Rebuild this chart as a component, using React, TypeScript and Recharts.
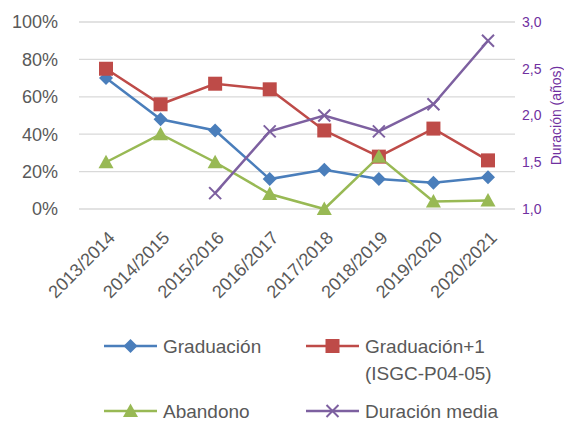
import React from 'react';
import { LineChart, Line, XAxis, YAxis, CartesianGrid } from 'recharts';

const categories = ['2013/2014', '2014/2015', '2015/2016', '2016/2017', '2017/2018', '2018/2019', '2019/2020', '2020/2021'];
const graduacion = [70, 48, 42, 16, 21, 16, 14, 17];
const graduacionMas1 = [75, 56, 67, 64, 42, 28, 43, 26];
const abandono = [25, 40, 25, 8, 0, 28, 4, 4.5];
const duracionMedia = [null, null, 1.17, 1.83, 2.0, 1.83, 2.12, 2.8];

const leftTicks = [0, 20, 40, 60, 80, 100];
const rightTicks = [1, 1.5, 2, 2.5, 3];

const BLUE = '#4A7EBB';
const RED = '#BE4B48';
const GREEN = '#98B954';
const PURPLE = '#7D60A0';
const TEXT = '#595959';
const AXIS_PURPLE = '#7030A0';
const FONT = '"Liberation Sans", Arial, sans-serif';

const data = categories.map((c, i) => ({
  year: c,
  grad: graduacion[i],
  grad1: graduacionMas1[i],
  aband: abandono[i],
  dur: duracionMedia[i],
}));

const diamond = (cx: number, cy: number, color: string, r = 7) => (
  <path d={`M${cx},${cy - r}L${cx + r},${cy}L${cx},${cy + r}L${cx - r},${cy}Z`} fill={color} />
);
const square = (cx: number, cy: number, color: string, r = 7) => (
  <rect x={cx - r} y={cy - r} width={r * 2} height={r * 2} fill={color} />
);
const triangle = (cx: number, cy: number, color: string, r = 7.5) => (
  <path d={`M${cx},${cy - r}L${cx + r},${cy + r * 0.8}L${cx - r},${cy + r * 0.8}Z`} fill={color} />
);
const cross = (cx: number, cy: number, color: string, r = 6) => (
  <path d={`M${cx - r},${cy - r}L${cx + r},${cy + r}M${cx - r},${cy + r}L${cx + r},${cy - r}`} stroke={color} strokeWidth={2} fill="none" />
);

const makeDot = (fn: (cx: number, cy: number, color: string) => React.ReactElement, color: string) => (props: any) => {
  const { cx, cy, index } = props;
  if (cx == null || cy == null || props.value == null) return <g key={index} />;
  return <g key={index}>{fn(cx, cy, color)}</g>;
};

const XTick = (props: any) => {
  const { x, y, payload } = props;
  const px = x + 10;
  const py = y + 30;
  return (
    <text x={px} y={py} transform={`rotate(-45, ${px}, ${py})`} textAnchor="end" fill={TEXT} fontSize={18} fontFamily={FONT}>
      {payload.value}
    </text>
  );
};

const RightLabel = (props: any) => {
  const { viewBox } = props;
  const x = viewBox.x + 41;
  const y = viewBox.y + viewBox.height / 2;
  return (
    <text x={x} y={y} transform={`rotate(-90, ${x}, ${y})`} textAnchor="middle" dominantBaseline="central" fill={AXIS_PURPLE} fontSize={14} fontFamily={FONT}>
      Duración (años)
    </text>
  );
};

const legendItems = [
  { x: 104, y: 346, color: BLUE, marker: diamond, lines: ['Graduación'] },
  { x: 306, y: 346, color: RED, marker: square, lines: ['Graduación+1', '(ISGC-P04-05)'] },
  { x: 104, y: 411, color: GREEN, marker: triangle, lines: ['Abandono'] },
  { x: 306, y: 411, color: PURPLE, marker: cross, lines: ['Duración media'] },
];

const Legend = () => (
  <svg width={564} height={421} style={{ position: 'absolute', left: 0, top: 0, pointerEvents: 'none' }}>
    {legendItems.map((it) => (
      <g key={it.lines[0]}>
        <line x1={it.x} x2={it.x + 53} y1={it.y} y2={it.y} stroke={it.color} strokeWidth={2.5} />
        {it.marker(it.x + 26.5, it.y, it.color)}
        {it.lines.map((t, k) => (
          <text key={t} x={it.x + 59} y={it.y + k * 27} dominantBaseline="central" fill={TEXT} fontSize={19} fontFamily={FONT}>
            {t}
          </text>
        ))}
      </g>
    ))}
  </svg>
);

export default function App() {
  return (
    <div style={{ position: 'absolute', left: 0, top: 0, width: 564, height: 421, background: '#fff' }}>
      <LineChart width={564} height={421} data={data} margin={{ top: 22, right: 0, bottom: 0, left: 0 }}>
        <CartesianGrid yAxisId="left" vertical={false} stroke="#D9D9D9" strokeWidth={1.3} />
        <XAxis
          dataKey="year"
          interval={0}
          height={212}
          padding={{ left: 27, right: 27 }}
          tickSize={0}
          tickMargin={0}
          axisLine={false}
          tickLine={false}
          tick={<XTick />}
        />
        <YAxis
          yAxisId="left"
          domain={[0, 100]}
          ticks={leftTicks}
          width={79}
          tickSize={0}
          tickMargin={21}
          axisLine={false}
          tickLine={false}
          tickFormatter={(v: number) => `${v}%`}
          tick={{ fill: TEXT, fontSize: 18, fontFamily: FONT }}
        />
        <YAxis
          yAxisId="right"
          orientation="right"
          domain={[1, 3]}
          ticks={rightTicks}
          width={49}
          tickSize={0}
          tickMargin={7}
          axisLine={false}
          tickLine={false}
          tickFormatter={(v: number) => v.toFixed(1).replace('.', ',')}
          tick={{ fill: AXIS_PURPLE, fontSize: 14, fontFamily: FONT, textAnchor: 'start' }}
          label={<RightLabel />}
        />
        <Line yAxisId="left" type="linear" dataKey="grad" stroke={BLUE} strokeWidth={2.5} dot={makeDot(diamond, BLUE)} activeDot={false} isAnimationActive={false} />
        <Line yAxisId="left" type="linear" dataKey="grad1" stroke={RED} strokeWidth={2.5} dot={makeDot(square, RED)} activeDot={false} isAnimationActive={false} />
        <Line yAxisId="left" type="linear" dataKey="aband" stroke={GREEN} strokeWidth={2.5} dot={makeDot(triangle, GREEN)} activeDot={false} isAnimationActive={false} />
        <Line yAxisId="right" type="linear" dataKey="dur" stroke={PURPLE} strokeWidth={2.5} dot={makeDot(cross, PURPLE)} activeDot={false} isAnimationActive={false} />
      </LineChart>
      <Legend />
    </div>
  );
}
